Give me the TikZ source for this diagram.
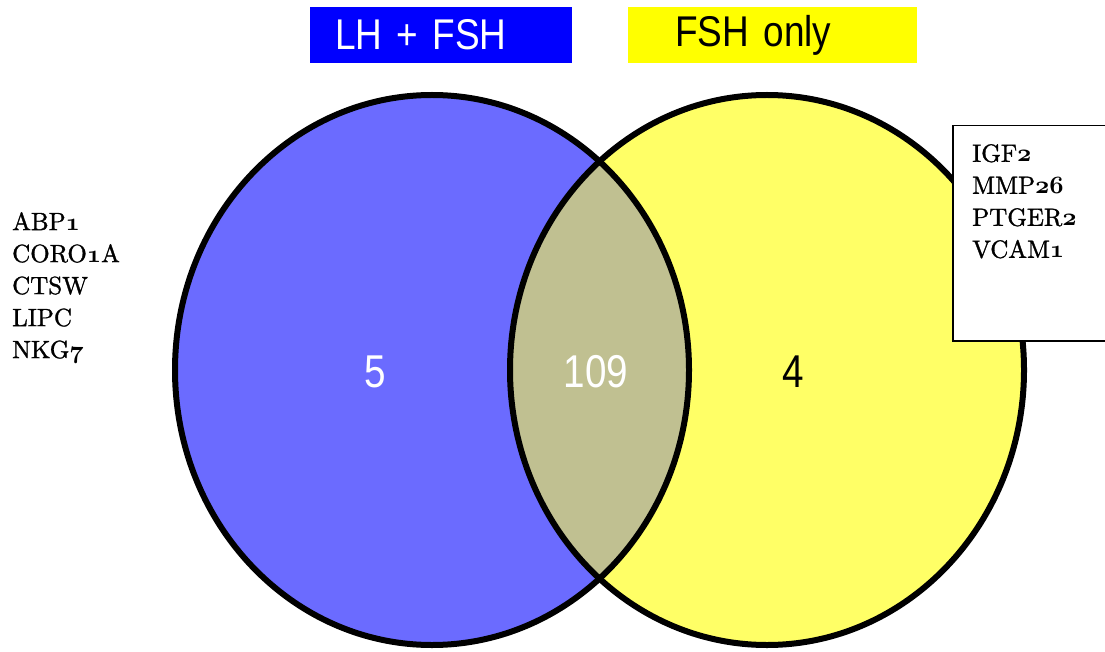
\documentclass[tikz,border=0pt]{standalone}
\usepackage{fontspec}
\setsansfont{Liberation Sans}
\newfontfamily\narrowsf[FakeStretch=0.86]{Liberation Sans}
\newfontfamily\numsf[FakeStretch=0.84]{Liberation Sans}
\newfontfamily\genefont[FakeBold=1.2]{lmroman10-regular.otf}
\newcommand\osnum[1]{\mbox{\boldmath$\mathnormal{#1}$}}
\definecolor{lhfill}{RGB}{107,107,255}
\definecolor{fshfill}{RGB}{255,255,102}
\definecolor{bothfill}{RGB}{192,192,145}
\definecolor{lhhead}{RGB}{0,0,255}
\definecolor{fshhead}{RGB}{255,255,0}

\begin{document}
\begin{tikzpicture}[x=1pt,y=-1pt]
\tikzstyle{header}=[anchor=west,minimum height=56pt,align=left,
    font=\narrowsf\fontsize{43}{48}\selectfont]
\tikzstyle{count}=[font=\numsf\fontsize{46}{50}\selectfont]
\tikzstyle{genelist}=[anchor=north west,inner sep=0pt,align=left,
    font=\genefont\fontsize{25}{32}\selectfont]
\tikzstyle{genebox}=[draw,line width=1.5pt,fill=white,anchor=north west,
    minimum width=170pt,minimum height=215pt]
\tikzstyle{outline}=[draw=black,line width=6pt]
\useasboundingbox (0,0) rectangle (1105,652);
\clip (0,0) rectangle (1105,652);
% the two sets
\coordinate (lh) at (432,370);
\coordinate (fsh) at (767,370);
\fill[lhfill] (lh) ellipse [x radius=257,y radius=275];
\fill[fshfill] (fsh) ellipse [x radius=257,y radius=275];
\begin{scope}
\clip (fsh) ellipse [x radius=257,y radius=275];
\fill[bothfill] (lh) ellipse [x radius=257,y radius=275];
\end{scope}
\path[outline] (lh) ellipse [x radius=257,y radius=275];
\path[outline] (fsh) ellipse [x radius=257,y radius=275];
% headings
\node[header,fill=lhhead,text=white,text width=212pt,inner xsep=25pt] (lhhead) at (310,35) {LH + FSH};
\node[header,fill=fshhead,text=black,text width=195pt,inner xsep=47pt] (fshhead) at (628,35) {FSH only};
% counts
\node[count,text=white] (lhonly) at (375,372) {5};
\node[count,text=white] (both) at (596,372) {109};
\node[count,text=black] (fshonly) at (793,372) {4};
% gene lists
\node[genelist] (lhgenes) at (12,212) {ABP\osnum{1}\\CORO\osnum{1}A\\CTSW\\LIPC\\NKG\osnum{7}};
\node[genebox] (fshbox) at (952,125) {};
\node[genelist] (fshgenes) at ([xshift=20pt,yshift=-19pt]fshbox.north west) {IGF\osnum{2}\\MMP\osnum{26}\\PTGER\osnum{2}\\VCAM\osnum{1}};
\end{tikzpicture}
\end{document}
